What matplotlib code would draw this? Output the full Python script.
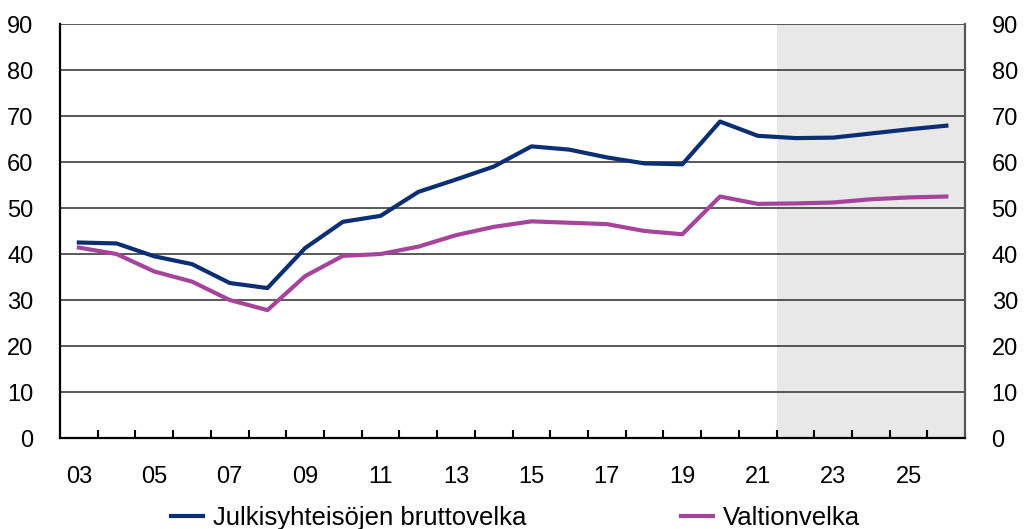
import numpy as npy
import matplotlib.pyplot as plt

# Julkisyhteisöjen bruttovelka ja valtionvelka, % BKT:sta
vuodet = npy.arange(2003, 2027)
bruttovelka = [42.5, 42.3, 39.5, 37.8, 33.7, 32.6, 41.3, 47.0, 48.3, 53.5,
               56.2, 59.0, 63.4, 62.7, 61.0, 59.7, 59.5, 68.8, 65.7, 65.2,
               65.3, 66.2, 67.1, 67.9]
valtionvelka = [41.4, 40.0, 36.2, 34.0, 30.0, 27.8, 35.2, 39.6, 40.0, 41.6,
                44.1, 45.9, 47.1, 46.8, 46.5, 45.0, 44.3, 52.5, 50.9, 51.0,
                51.2, 51.9, 52.3, 52.5]
ennuste_alku = 2021.5
ytiks = npy.arange(0, 100, 10)
xlabel_vuodet = npy.arange(2003, 2027, 2)

plt.rcParams['font.family'] = ['Liberation Sans', 'DejaVu Sans']

fig = plt.figure(figsize=(10.29, 5.29), dpi=100)
ax = fig.add_axes([0.0583, 0.172, 0.8797, 0.7826])

# Ennustejakso harmaalla
ax.axvspan(ennuste_alku, 2026.5, color='#e8e8e8', lw=0, zorder=0)
for y in ytiks[1:]:
    ax.axhline(y, color='#3c3c3c', lw=1.2, zorder=1)

ax.plot(vuodet, bruttovelka, color='#0b2f72', lw=3.0, zorder=3,
        label='Julkisyhteisöjen bruttovelka')
ax.plot(vuodet, valtionvelka, color='#a6449c', lw=3.0, zorder=3,
        label='Valtionvelka')

ax.set_xlim(2002.5, 2026.5)
ax.set_ylim(0, 90)

ax.set_xticks(xlabel_vuodet)
ax.set_xticklabels(['%02d' % (v % 100) for v in xlabel_vuodet])
ax.set_xticks(npy.arange(2003.5, 2026, 1), minor=True)
ax.tick_params(axis='x', which='major', length=0, pad=20, labelsize=17)
ax.tick_params(axis='x', which='minor', direction='in', length=6, width=1.5,
               color='black')
ax.set_yticks(ytiks)
ax.tick_params(axis='y', length=0, labelsize=17, labelright=True, pad=19)

ax.spines['top'].set_visible(False)
ax.spines['left'].set_linewidth(1.6)
ax.spines['bottom'].set_linewidth(1.6)
ax.spines['right'].set_linewidth(1.6)
ax.spines['right'].set_color('#555555')

fig.legend(loc='center', bbox_to_anchor=(0.501, 0.021), ncol=2, frameon=False,
           fontsize=18.5, handlelength=1.25, handletextpad=0.4, columnspacing=6.0)

fig.savefig('out.png', dpi=100)
